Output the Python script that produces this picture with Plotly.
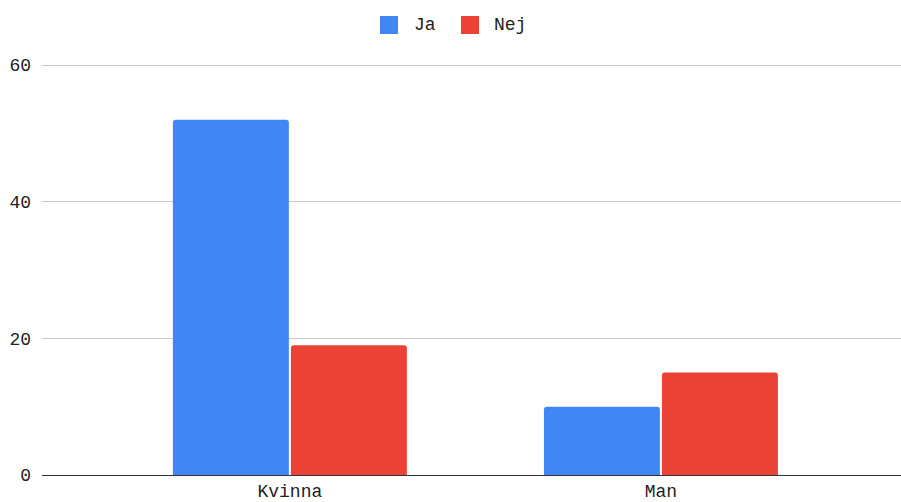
import plotly.graph_objects as go

categories = ["Kvinna", "Man"]
series_names = ["Ja", "Nej"]
ja_values = [52, 10]
nej_values = [19, 15]
y_ticks = [0, 20, 40, 60]
colors = ["#4285F4", "#EA4335"]

FONT = "Liberation Mono"
W, H = 901, 502
L, R, T, B = 42, 0, 63, 27
PW, PH = W - L - R, H - T - B
Y_TOP = 60 * PH / 410.0  # keeps 60 at 65px while leaving room for its gridline


def px_x(p):
    return (p - L) / PW


def px_y(p):
    return (H - B - p) / PH


fig = go.Figure()
for name, vals, col in zip(series_names, [ja_values, nej_values], colors):
    fig.add_trace(go.Bar(name=name, x=categories, y=vals, marker_color=col,
                         marker_line_width=0, showlegend=False))

# custom legend (square swatches like the reference)
legend_sq_left = [380, 461]
legend_txt_left = [412, 492]
shapes = []
annotations = []
for name, col, sx, tx in zip(series_names, colors, legend_sq_left, legend_txt_left):
    shapes.append(dict(type="rect", xref="paper", yref="paper",
                       x0=px_x(sx), x1=px_x(sx + 18), y0=px_y(34), y1=px_y(16),
                       fillcolor=col, line=dict(width=0), layer="above"))
    annotations.append(dict(text=name, xref="paper", yref="paper",
                            x=px_x(tx), y=px_y(25), xanchor="left", yanchor="middle",
                            showarrow=False, font=dict(family=FONT, size=18, color="#222222")))

fig.update_layout(
    width=W, height=H,
    margin=dict(l=L, r=R, t=T, b=B, autoexpand=False),
    paper_bgcolor="white", plot_bgcolor="white",
    barmode="group", bargap=0.364, bargroupgap=0.017,
    barcornerradius=3,
    font=dict(family=FONT, size=18, color="#222222"),
    showlegend=False,
    shapes=shapes, annotations=annotations,
    xaxis=dict(range=[-0.668, 1.647], showgrid=False, showline=False,
               ticks="", ticklabelstandoff=3, automargin=False,
               tickfont=dict(family=FONT, size=18, color="#222222")),
    yaxis=dict(range=[0, Y_TOP], tickvals=y_ticks, showgrid=True, gridcolor="#CCCCCC",
               gridwidth=1, zeroline=True, zerolinecolor="#333333", zerolinewidth=1,
               ticks="", ticklabelstandoff=10, automargin=False,
               tickfont=dict(family=FONT, size=18, color="#222222")),
)

fig.write_html("out.html")
